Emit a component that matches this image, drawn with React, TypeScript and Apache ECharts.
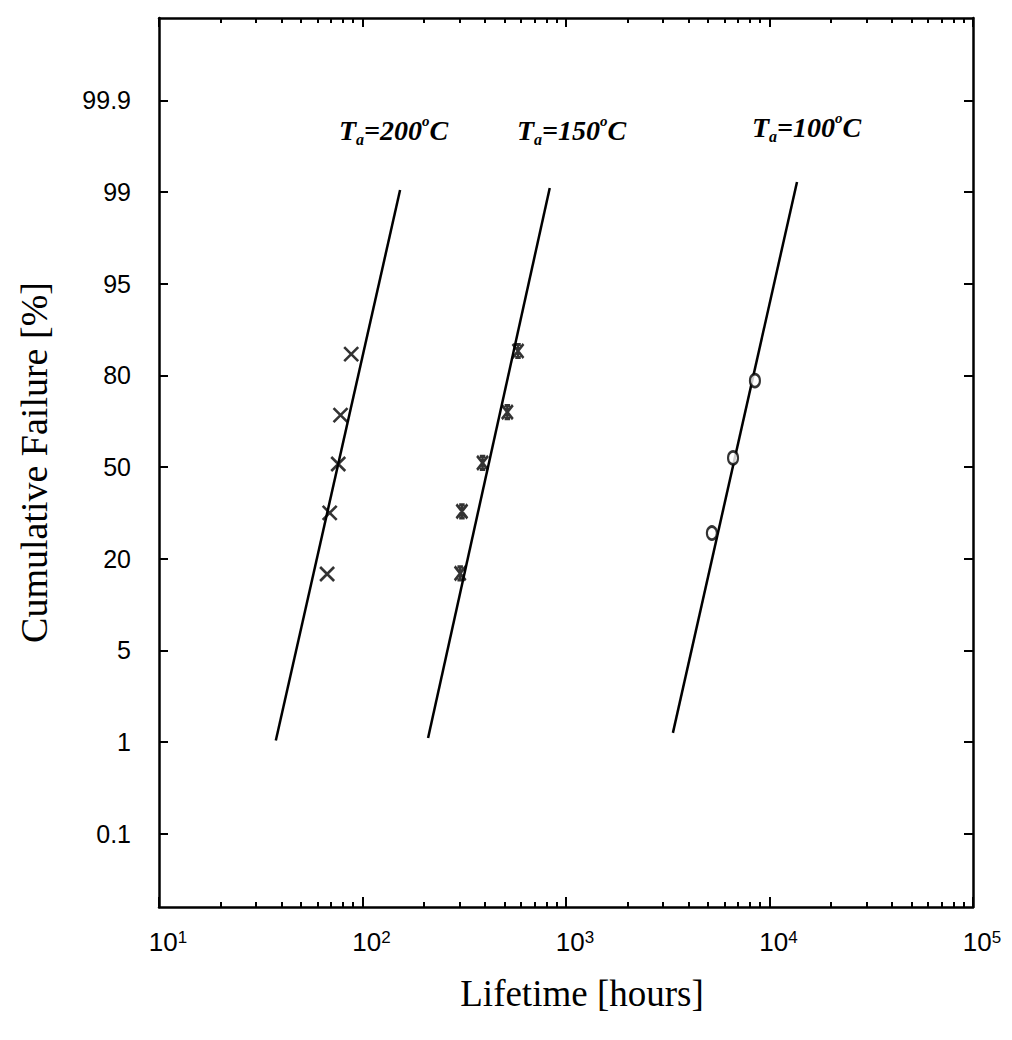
import React, { useEffect, useRef } from "react";
import * as echarts from "echarts";

// Probability-axis tick labels (evenly spaced on the plot)
const yLevels = [0.1, 1, 5, 20, 50, 80, 95, 99, 99.9];
const yLabels = ["0.1", "1", "5", "20", "50", "80", "95", "99", "99.9"];

// Measured failures (lifetime in hours, cumulative failure in %)
const hours200 = [67, 69, 76, 78, 88];
const fail200 = [17.5, 35, 51, 67, 83.5];
const hours150 = [302, 308, 389, 515, 581];
const fail150 = [17.6, 35.5, 51.4, 68, 84];
const hours100 = [5210, 6620, 8480];
const fail100 = [28.4, 53, 78.3];

// Fitted lines (end points)
const fitHours200 = [37.5, 153];
const fitFail200 = [1.07, 99.02];
const fitHours150 = [210, 832];
const fitFail150 = [1.18, 99.04];
const fitHours100 = [3352, 13650];
const fitFail100 = [1.4, 99.1];

const annotations = ["200", "150", "100"];

// map a percentage onto the evenly spaced probability axis (piecewise between labelled levels)
function toLevel(p: number): number {
  for (let i = 0; i < yLevels.length - 1; i++) {
    if (p <= yLevels[i + 1]) {
      return i + (p - yLevels[i]) / (yLevels[i + 1] - yLevels[i]);
    }
  }
  return yLevels.length - 1;
}

function pairs(h: number[], f: number[]) {
  return h.map((v, i) => [v, toLevel(f[i])]);
}

const minorLog: number[] = [];
for (let d = 1; d <= 4; d++) {
  for (let m = 2; m <= 9; m++) minorLog.push(d + Math.log10(m));
}
const levelIdx = yLevels.map((_, i) => i);

export default function App() {
  const ref = useRef<HTMLDivElement>(null);
  useEffect(() => {
    if (!ref.current) return;
    const chart = echarts.init(ref.current, null, { renderer: "svg" });
    const black = "#000";
    const axisLine = { show: true, onZero: false, lineStyle: { color: black, width: 2.5 } };
    const rich = {
      base: { fontFamily: "Liberation Sans", fontSize: 26, color: black },
      exp: { fontFamily: "Liberation Sans", fontSize: 17, color: black, lineHeight: 16, verticalAlign: "top" },
    };
    const annRich = {
      t: { fontFamily: "Liberation Serif", fontStyle: "italic", fontWeight: "bold", fontSize: 28, lineHeight: 34, fill: black },
      sub: { fontFamily: "Liberation Serif", fontStyle: "italic", fontWeight: "bold", fontSize: 16, lineHeight: 12, verticalAlign: "bottom", fill: black },
      sup: { fontFamily: "Liberation Serif", fontStyle: "italic", fontWeight: "bold", fontSize: 15, lineHeight: 14, verticalAlign: "top", fill: black },
    };
    const annPos = [
      [339, 130],
      [517, 130],
      [752, 127],
    ];
    const minorAxis = (position: string) => ({
      type: "value",
      min: 1,
      max: 5,
      position,
      axisLine: { show: false, onZero: false },
      axisTick: { show: true, inside: true, length: 5, customValues: minorLog, lineStyle: { color: black, width: 2 } },
      axisLabel: { show: false },
      splitLine: { show: false },
    });
    const option: any = {
      animation: false,
      backgroundColor: "#fff",
      grid: { left: 159, right: 39, top: 18, bottom: 133 },
      xAxis: [
        {
          type: "log",
          logBase: 10,
          min: 10,
          max: 100000,
          position: "bottom",
          name: "Lifetime [hours]",
          nameLocation: "middle",
          nameGap: 68,
          nameTextStyle: { fontFamily: "Liberation Serif", fontSize: 37, color: black, padding: [0, 0, 0, 32] },
          axisLine,
          axisTick: { show: true, inside: true, length: 10, lineStyle: { color: black, width: 2 } },
          axisLabel: {
            margin: 22,
            padding: [0, 0, 0, 18],
            fontFamily: "Liberation Sans",
            fontSize: 26,
            color: black,
            formatter: (v: number) => `{base|10}{exp|${Math.round(Math.log10(v))}}`,
            rich,
          },
          splitLine: { show: false },
          minorTick: { show: false },
        },
        minorAxis("bottom"),
        {
          type: "log",
          logBase: 10,
          min: 10,
          max: 100000,
          position: "top",
          axisLine,
          axisTick: { show: true, inside: true, length: 9, lineStyle: { color: black, width: 2 } },
          axisLabel: { show: false },
          splitLine: { show: false },
        },
        minorAxis("top"),
      ],
      yAxis: [
        {
          type: "value",
          min: -0.8,
          max: 8.9,
          position: "left",
          name: "Cumulative Failure [%]",
          nameLocation: "middle",
          nameGap: 106,
          nameTextStyle: { fontFamily: "Liberation Serif", fontSize: 38, color: black },
          axisLine,
          axisTick: { show: true, inside: true, length: 9, customValues: levelIdx, lineStyle: { color: black, width: 2 } },
          axisLabel: {
            customValues: levelIdx,
            formatter: (v: number) => yLabels[Math.round(v)] ?? "",
            fontFamily: "Liberation Sans",
            fontSize: 25,
            color: black,
            margin: 28,
          },
          splitLine: { show: false },
        },
        {
          type: "value",
          min: -0.8,
          max: 8.9,
          position: "right",
          axisLine,
          axisTick: { show: true, inside: true, length: 9, customValues: levelIdx, lineStyle: { color: black, width: 2 } },
          axisLabel: { show: false },
          splitLine: { show: false },
        },
      ],
      series: [
        { name: "fit 200", type: "line", data: pairs(fitHours200, fitFail200), symbol: "none", lineStyle: { color: black, width: 2.5 } },
        { name: "fit 150", type: "line", data: pairs(fitHours150, fitFail150), symbol: "none", lineStyle: { color: black, width: 2.5 } },
        { name: "fit 100", type: "line", data: pairs(fitHours100, fitFail100), symbol: "none", lineStyle: { color: black, width: 2.5 } },
        {
          name: "Ta=200°C",
          type: "scatter",
          data: pairs(hours200, fail200),
          symbol: "path://M0 0L10 10M10 0L0 10",
          symbolSize: 14,
          itemStyle: { color: black, borderColor: black, borderWidth: 2.6 },
          z: 5,
        },
        {
          name: "Ta=150°C",
          type: "scatter",
          data: pairs(hours150, fail150),
          symbol: "path://M0 0L10 14M10 0L0 14M5 0L5 14M2.5 0.5L7.5 0.5M2.5 13.5L7.5 13.5",
          symbolSize: [11, 14],
          itemStyle: { color: black, borderColor: black, borderWidth: 2.8 },
          z: 5,
        },
        {
          name: "Ta=100°C",
          type: "scatter",
          data: pairs(hours100, fail100),
          symbol: "circle",
          symbolSize: [10, 13],
          itemStyle: { color: "#fff", borderColor: black, borderWidth: 2.4 },
          z: 5,
        },
      ],
      graphic: annotations.map((t, i) => ({
        type: "text",
        x: annPos[i][0],
        y: annPos[i][1],
        style: {
          text: `{t|T}{sub|a}{t|=${t}}{sup|o}{t|C}`,
          rich: annRich,
          align: "left",
          verticalAlign: "middle",
          fill: black,
        },
      })),
    };
    chart.setOption(option);
    return () => chart.dispose();
  }, []);
  return (
    <div
      ref={ref}
      style={{ position: "fixed", left: 0, top: 0, width: 1012, height: 1040, background: "#fff" }}
    />
  );
}
